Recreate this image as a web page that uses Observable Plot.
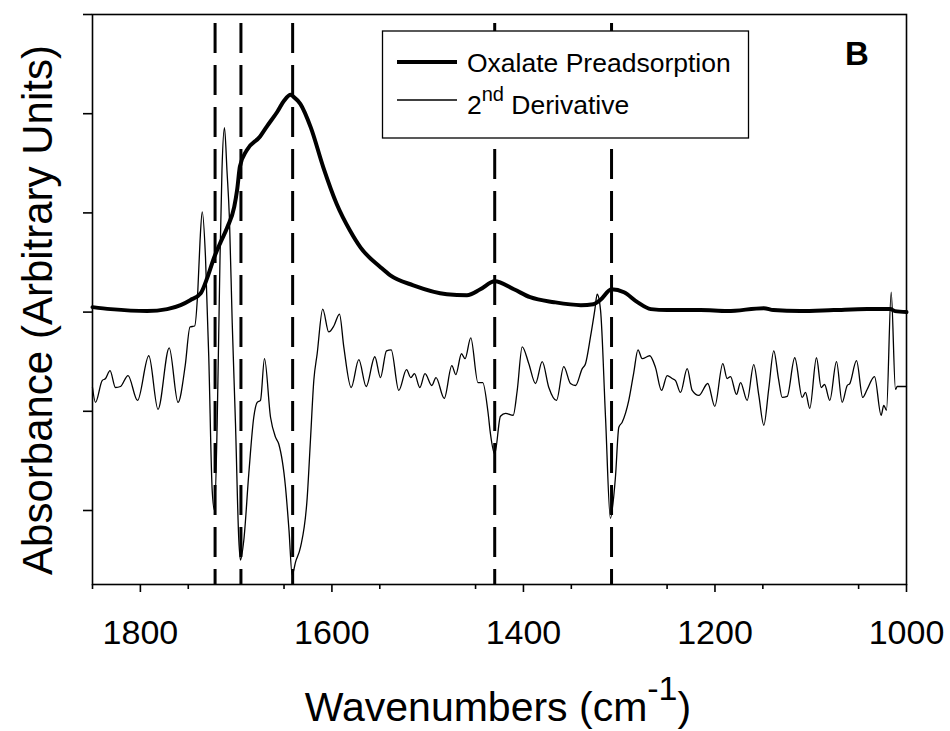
<!DOCTYPE html>
<html>
<head>
<meta charset="utf-8">
<script src="https://cdn.jsdelivr.net/npm/d3@7"></script>
<script src="https://cdn.jsdelivr.net/npm/@observablehq/plot@0.6"></script>
<style>
  html, body { margin: 0; padding: 0; background: white; }
</style>
</head>
<body>
<div id="chart"></div>
<script>
// ---- Data ----
const oxalateWavenumbers = [1850,1831,1793,1772,1758,1748,1737,1730,1723,1716,1709,1702,1699,1696,1689,1675,1668,1657,1650,1643,1640,1633,1622,1609,1595,1581,1570,1549,1539,1515,1480,1459,1445,1430,1410,1393,1368,1340,1327,1320,1308,1295,1281,1267,1250,1215,1187,1149,1139,1111,1076,1041,1017,1012,1000];
const oxalateAbsorbance = [3.05,3.03,3.01,3.03,3.07,3.12,3.19,3.35,3.55,3.71,3.86,4.06,4.23,4.47,4.63,4.77,4.87,5.02,5.13,5.19,5.17,5.10,4.86,4.46,4.09,3.82,3.65,3.45,3.37,3.27,3.18,3.17,3.23,3.31,3.23,3.15,3.10,3.07,3.08,3.12,3.23,3.20,3.10,3.03,3.02,3.02,3.01,3.04,3.02,3.01,3.02,3.03,3.03,3.01,3.00];

const derivWavenumbers = [1850,1846.9,1839.9,1836.4,1831.7,1826,1820.8,1812.9,1803,1791.2,1781.6,1769.9,1760.7,1753.2,1748.2,1743.3,1740,1737.7,1735.4,1732,1728.6,1725,1722.6,1719.8,1716.9,1714.8,1712.2,1709.6,1707,1704.1,1700.7,1697.2,1695.5,1692,1686.8,1681.6,1678,1674.6,1670.4,1664.1,1658.9,1655.5,1648.5,1644.8,1641.5,1638,1632.8,1625.8,1622.4,1618.9,1615.4,1609.6,1603.3,1598,1592.1,1587.6,1579.9,1571.9,1564.2,1555.2,1549.3,1543,1538.1,1530.2,1522.1,1517.6,1513.8,1508.2,1502.8,1495.7,1491.3,1482.7,1474.8,1470.6,1464.7,1461,1455,1447.5,1442.5,1437,1434.4,1430,1424,1418.7,1410.7,1406.5,1401.3,1394.4,1387.4,1380.4,1373.5,1365.5,1357.9,1350.9,1345.6,1338.6,1335.2,1330,1325.5,1323,1319.5,1314.3,1309.2,1303.9,1300.4,1296.9,1290,1284.8,1280.4,1276,1268.1,1262.1,1255.8,1249.9,1244.7,1241.2,1236,1229,1223.8,1216.9,1207.5,1200.2,1191.8,1187.3,1183.8,1177.5,1173.3,1166.4,1159.5,1154.2,1149,1143.8,1138.6,1133.7,1129.8,1124.6,1116.7,1108.9,1105.5,1101,1094,1089.1,1085.6,1080.1,1073.1,1067.2,1061.9,1059.2,1052.2,1045.7,1041.1,1033.4,1026.5,1023.7,1020.9,1016,1011.5,1009.7,1000];
const derivValues = [2.24,2.09,2.31,2.33,2.41,2.24,2.25,2.36,2.11,2.56,2.02,2.64,2.09,2.46,2.85,2.86,3.22,3.72,4.01,3.55,2.55,1.20,1.00,1.88,3.52,4.43,4.86,4.43,3.94,2.89,1.88,0.70,0.50,0.70,1.37,1.94,2.09,2.11,2.53,1.94,1.74,1.67,1.24,0.80,0.35,0.48,0.63,1.13,1.71,2.31,2.58,3.03,2.80,2.86,2.98,2.65,2.24,2.52,2.25,2.55,2.34,2.61,2.62,2.21,2.42,2.34,2.38,2.24,2.38,2.26,2.34,2.13,2.46,2.37,2.58,2.53,2.74,2.29,2.29,1.99,1.77,1.57,1.95,1.98,1.96,2.21,2.65,2.48,2.28,2.50,2.24,2.11,2.45,2.28,2.26,2.43,2.48,2.75,3.02,3.18,3.02,1.94,0.92,1.34,1.84,1.89,2.11,2.39,2.62,2.53,2.56,2.44,2.21,2.36,2.33,2.31,2.19,2.43,2.21,2.16,2.28,2.05,2.48,2.33,2.35,2.17,2.29,2.11,2.47,2.16,1.86,2.23,2.61,2.33,2.14,2.15,2.54,2.14,2.19,2.03,2.54,2.24,2.27,2.11,2.50,2.09,2.26,2.28,2.51,2.14,2.22,2.35,1.96,2.06,2.01,3.20,2.22,2.25,2.25];

const peakLines = [1722, 1695, 1641, 1430, 1308];
const xMajorTicks = [1800, 1600, 1400, 1200, 1000];
const xMinorTicks = [1850, 1750, 1650, 1550, 1450, 1350, 1250, 1150, 1050];
const yTicks = [1, 2, 3, 4, 5, 6];
const xDomain = [1850, 1000];
const yDomain = [0.254, 6];
const dashTop = 5.91;

const seriesNames = ["Oxalate Preadsorption", "2nd Derivative"];

// ---- Build tables ----
const oxalate = oxalateWavenumbers.map((w, i) => ({w, v: oxalateAbsorbance[i]}));
const deriv = derivWavenumbers.map((w, i) => ({w, v: derivValues[i]}));

const FONT = "'Liberation Sans', Arial, Helvetica, sans-serif";

const chart = Plot.plot({
  width: 950,
  height: 731,
  marginLeft: 92,
  marginRight: 44,
  marginTop: 14,
  marginBottom: 147,
  x: {domain: xDomain, label: null},
  y: {domain: yDomain, label: null},
  style: {fontFamily: FONT, fontSize: "34px", color: "black", background: "white", overflow: "visible"},
  marks: [
    Plot.ruleX(peakLines, {x: d => d, y1: () => dashTop, y2: () => yDomain[0], stroke: "black", strokeWidth: 3, strokeDasharray: "30,12"}),
    Plot.line(deriv, {x: "w", y: "v", stroke: "black", strokeWidth: 1.3, curve: "monotone-x"}),
    Plot.line(oxalate, {x: "w", y: "v", stroke: "black", strokeWidth: 4, curve: "monotone-x"}),
    Plot.frame({stroke: "black", strokeWidth: 1.6}),
    Plot.axisX({ticks: xMinorTicks, tickSize: 5, tickFormat: () => "", strokeWidth: 1.6, label: null}),
    Plot.axisX({ticks: xMajorTicks, tickSize: 8, tickPadding: 27, tickFormat: d => String(d), strokeWidth: 1.6, label: null}),
    Plot.axisY({ticks: yTicks, tickSize: 9, tickFormat: () => "", strokeWidth: 1.6, label: null})
  ]
});

document.getElementById("chart").appendChild(chart);

// ---- Decorations: axis titles, legend, panel letter ----
const svg = d3.select(chart);

// Y axis title
svg.append("text")
  .attr("transform", "translate(52,310) rotate(-90)")
  .attr("text-anchor", "middle")
  .attr("font-family", FONT)
  .attr("font-size", 42)
  .attr("fill", "black")
  .text("Absorbance (Arbitrary Units)");

// X axis title with superscript
const xt = svg.append("text")
  .attr("x", 498).attr("y", 721)
  .attr("text-anchor", "middle")
  .attr("font-family", FONT)
  .attr("font-size", 41)
  .attr("fill", "black");
xt.append("tspan").text("Wavenumbers (cm");
xt.append("tspan").attr("font-size", 34).attr("dy", -21).text("-1");
xt.append("tspan").attr("dy", 21).text(")");

// Legend
const lg = svg.append("g").attr("text-anchor", "start");
lg.append("rect")
  .attr("x", 382.5).attr("y", 31).attr("width", 366).attr("height", 107)
  .attr("fill", "white").attr("stroke", "black").attr("stroke-width", 1.3);
lg.append("line").attr("x1", 397).attr("x2", 457).attr("y1", 62).attr("y2", 62)
  .attr("stroke", "black").attr("stroke-width", 4);
lg.append("line").attr("x1", 397).attr("x2", 457).attr("y1", 100).attr("y2", 100)
  .attr("stroke", "black").attr("stroke-width", 1.3);
lg.append("text").attr("x", 467).attr("y", 72)
  .attr("text-anchor", "start")
  .attr("font-family", FONT).attr("font-size", 26.5).attr("fill", "black")
  .text(seriesNames[0]);
const l2 = lg.append("text").attr("x", 467).attr("y", 114)
  .attr("text-anchor", "start")
  .attr("font-family", FONT).attr("font-size", 26.5).attr("fill", "black");
l2.append("tspan").text("2");
l2.append("tspan").attr("font-size", 20).attr("dy", -13).text("nd");
l2.append("tspan").attr("dy", 13).text(" Derivative");

// Panel letter
svg.append("text").attr("x", 857).attr("y", 65)
  .attr("text-anchor", "middle")
  .attr("font-family", FONT).attr("font-size", 33).attr("font-weight", "bold").attr("fill", "black")
  .text("B");
</script>
</body>
</html>
